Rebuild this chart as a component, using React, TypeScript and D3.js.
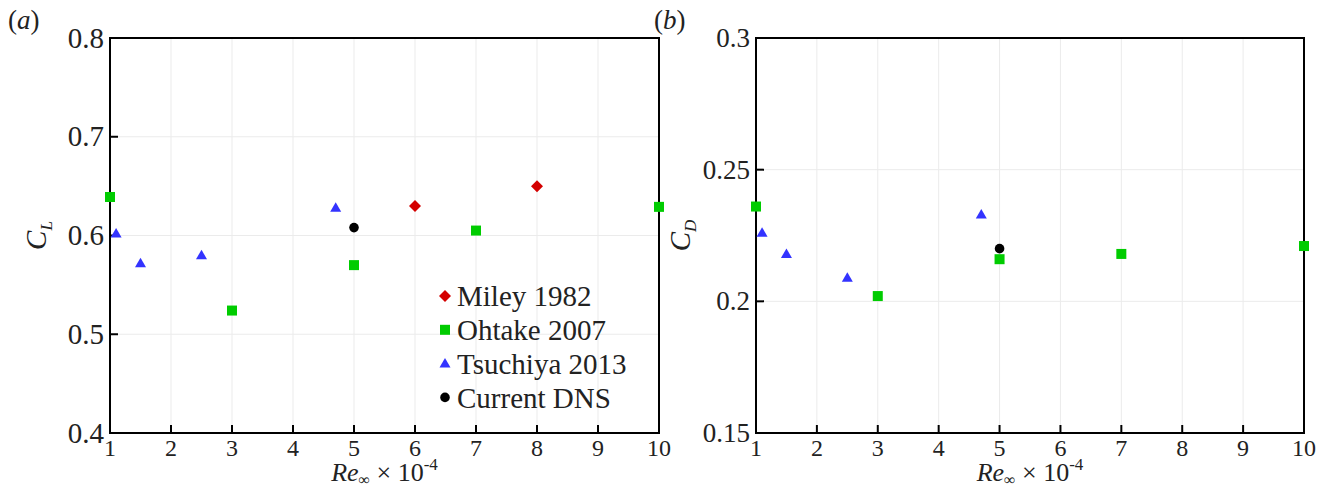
import React from "react";
import * as d3 from "d3";

const xTicks = [1, 2, 3, 4, 5, 6, 7, 8, 9, 10];
const clTicks = [0.4, 0.5, 0.6, 0.7, 0.8];
const cdTicks = [0.15, 0.2, 0.25, 0.3];

const mileyRe = [6, 8];
const mileyCL = [0.63, 0.65];
const ohtakeRe = [1, 3, 5, 7, 10];
const ohtakeCL = [0.639, 0.524, 0.57, 0.605, 0.629];
const ohtakeCD = [0.236, 0.202, 0.216, 0.218, 0.221];
const tsuchiyaRe = [1.1, 1.5, 2.5, 4.7];
const tsuchiyaCL = [0.602, 0.572, 0.58, 0.628];
const tsuchiyaCD = [0.226, 0.218, 0.209, 0.233];
const dnsRe = [5];
const dnsCL = [0.608];
const dnsCD = [0.22];

const legendLabels = ["Miley 1982", "Ohtake 2007", "Tsuchiya 2013", "Current DNS"];
const FONT = "Liberation Serif, DejaVu Serif, serif";

const RED = "#d40000";
const GREEN = "#00cc00";
const BLUE = "#3333ff";
const BLACK = "#000000";

type Kind = "diamond" | "square" | "triangle" | "circle";

function Marker({ kind, x, y }: { kind: Kind; x: number; y: number }) {
  if (kind === "square") return <rect x={x - 5} y={y - 5} width={10} height={10} fill={GREEN} />;
  if (kind === "circle") return <circle cx={x} cy={y} r={4.8} fill={BLACK} />;
  if (kind === "triangle")
    return <path d={`M${x},${y - 5.5} L${x + 5.5},${y + 4} L${x - 5.5},${y + 4} Z`} fill={BLUE} />;
  return <path d={`M${x},${y - 6} L${x + 6},${y} L${x},${y + 6} L${x - 6},${y} Z`} fill={RED} />;
}

type Series = { kind: Kind; xs: number[]; ys: number[] };

function Panel({
  x0, x1, y0, y1, domain, yTicks, yFmt, yFont, label, ylabelX, ylabelSub, series, legend,
}: {
  x0: number; x1: number; y0: number; y1: number; domain: [number, number]; yTicks: number[];
  yFmt: (v: number) => string; yFont: number; label: string; ylabelX: number; ylabelSub: string;
  series: Series[]; legend: boolean;
}) {
  const xs = d3.scaleLinear().domain([1, 10]).range([x0, x1]);
  const ys = d3.scaleLinear().domain(domain).range([y1, y0]);
  const cx = (x0 + x1) / 2;
  const cy = (y0 + y1) / 2;
  return (
    <g style={{ fontFamily: FONT }}>
      {xTicks.map((t) => (
        <line key={"gx" + t} x1={xs(t)} x2={xs(t)} y1={y0} y2={y1} stroke="#ebebeb" strokeWidth={1} />
      ))}
      {yTicks.map((t) => (
        <line key={"gy" + t} x1={x0} x2={x1} y1={ys(t)} y2={ys(t)} stroke="#ebebeb" strokeWidth={1} />
      ))}
      <rect x={x0} y={y0} width={x1 - x0} height={y1 - y0} fill="none" stroke="#000" strokeWidth={2} />
      {xTicks.map((t) => (
        <g key={"tx" + t}>
          <line x1={xs(t)} x2={xs(t)} y1={y1} y2={y1 - 8} stroke="#000" strokeWidth={2} />
          <text x={xs(t)} y={456} fontSize={24} textAnchor="middle" fill="#222">{t}</text>
        </g>
      ))}
      {yTicks.map((t) => (
        <g key={"ty" + t}>
          <line x1={x0} x2={x0 + 8} y1={ys(t)} y2={ys(t)} stroke="#000" strokeWidth={2} />
          <text x={x0 - 6} y={ys(t)} dy="0.33em" fontSize={yFont} textAnchor="end" fill="#222">{yFmt(t)}</text>
        </g>
      ))}
      <text x={cx} y={481} fontSize={26} textAnchor="middle" fill="#222">
        <tspan fontStyle="italic">Re</tspan>
        <tspan fontSize={16} dy={4}>∞</tspan>
        <tspan dy={-4}> × 10</tspan>
        <tspan fontSize={17} dy={-11}>-4</tspan>
      </text>
      <text transform={`translate(${ylabelX},${cy}) rotate(-90)`} fontSize={29} textAnchor="middle" fill="#222">
        <tspan fontStyle="italic">C</tspan>
        <tspan fontSize={17} fontStyle="italic" dy={6}>{ylabelSub}</tspan>
      </text>
      <text x={x0 - 102} y={29} fontSize={27} fill="#222">
        (<tspan fontStyle="italic">{label}</tspan>)
      </text>
      {series.map((s, si) =>
        s.xs.map((xv, i) => <Marker key={si + "-" + i} kind={s.kind} x={xs(xv)} y={ys(s.ys[i])} />)
      )}
      {legend &&
        legendLabels.map((l, i) => {
          const ly = 296 + i * 33.8;
          const kinds: Kind[] = ["diamond", "square", "triangle", "circle"];
          return (
            <g key={l}>
              <Marker kind={kinds[i]} x={445} y={ly} />
              <text x={457} y={ly} dy="0.35em" fontSize={29} fill="#222">{l}</text>
            </g>
          );
        })}
    </g>
  );
}

export default function App() {
  return (
    <svg width={1328} height={489} style={{ position: "absolute", left: 0, top: 0, background: "#fff" }}>
      <Panel
        x0={110} x1={659} y0={38} y1={433} domain={[0.4, 0.8]} yTicks={clTicks}
        yFmt={(v) => d3.format(".1f")(v)} yFont={29} label="a" ylabelX={46} ylabelSub="L"
        series={[
          { kind: "diamond", xs: mileyRe, ys: mileyCL },
          { kind: "square", xs: ohtakeRe, ys: ohtakeCL },
          { kind: "triangle", xs: tsuchiyaRe, ys: tsuchiyaCL },
          { kind: "circle", xs: dnsRe, ys: dnsCL },
        ]}
        legend={true}
      />
      <Panel
        x0={756} x1={1304} y0={38} y1={433} domain={[0.15, 0.3]} yTicks={cdTicks}
        yFmt={(v) => String(+v.toFixed(2))} yFont={27} label="b" ylabelX={690} ylabelSub="D"
        series={[
          { kind: "square", xs: ohtakeRe, ys: ohtakeCD },
          { kind: "triangle", xs: tsuchiyaRe, ys: tsuchiyaCD },
          { kind: "circle", xs: dnsRe, ys: dnsCD },
        ]}
        legend={false}
      />
    </svg>
  );
}
